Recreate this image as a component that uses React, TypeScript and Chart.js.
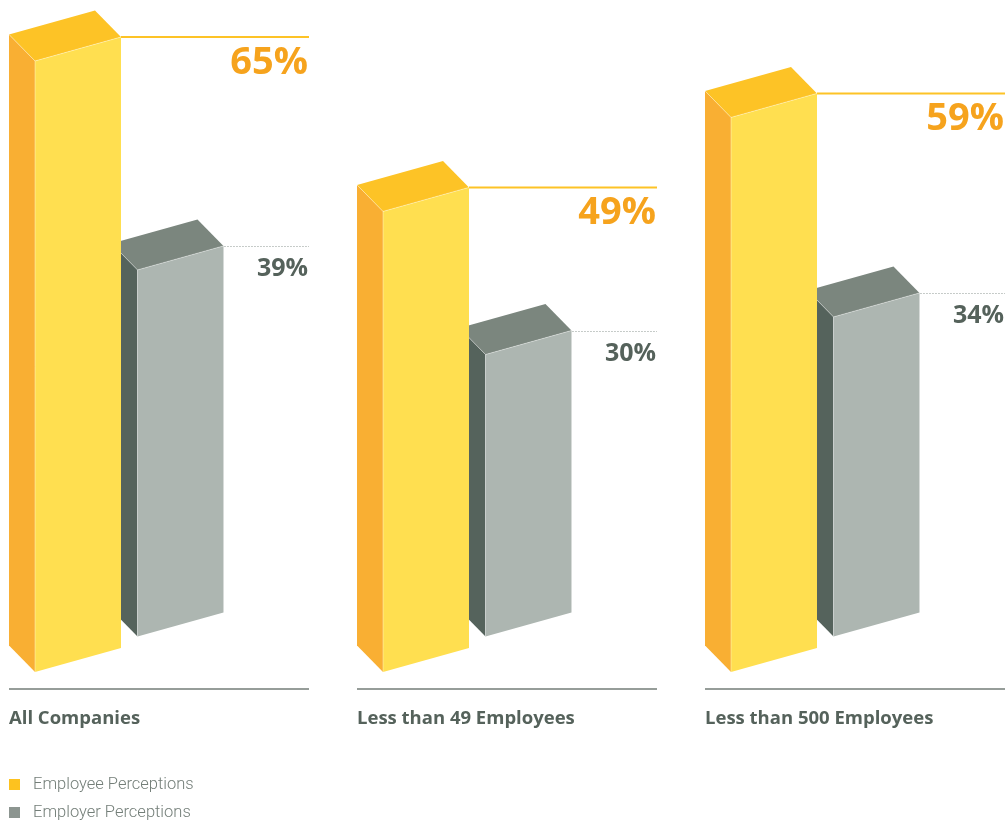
import React, { useEffect, useRef } from "react";
import { Chart, registerables } from "chart.js";
Chart.register(...registerables);

// ---- data ----
const categories = ["All Companies", "Less than 49 Employees", "Less than 500 Employees"];
const seriesNames = ["Employee Perceptions", "Employer Perceptions"];
const employeeValues = [65, 49, 59];
const employerValues = [39, 30, 34];

// ---- styles ----
const YELLOW = { front: "#FFDF50", side: "#F9AF33", top: "#FDC326", legend: "#FDC21F", label: "#F6A31D", line: "#FDC326" };
const GRAY = { front: "#ADB6B1", side: "#55635C", top: "#7B867E", legend: "#8C9590", label: "#55625B", line: "#8E9893" };
const SLOPE = 24 / 86;
const DEPTH_X = -26;
const DEPTH_Y = -26.5;
const GRAY_SHIFT = 35.5;
const GROUP_HALF_LEFT = 120.25;
const GROUP_WIDTH = 300;
const FONT_BOLD = "'Open Sans', 'Noto Sans', sans-serif";
const FONT_LIGHT = "Roboto, 'Open Sans', sans-serif";

type Pt = [number, number];

function poly(ctx: CanvasRenderingContext2D, pts: Pt[], fill: string) {
  ctx.beginPath();
  ctx.moveTo(pts[0][0], pts[0][1]);
  for (let i = 1; i < pts.length; i++) ctx.lineTo(pts[i][0], pts[i][1]);
  ctx.closePath();
  ctx.fillStyle = fill;
  ctx.fill();
}

function drawBox(ctx: CanvasRenderingContext2D, cx: number, top: number, base: number, w: number, c: any): Pt {
  const h = (SLOPE * w) / 2;
  const fl: Pt = [cx - w / 2, top + h];
  const fr: Pt = [cx + w / 2, top - h];
  const bl: Pt = [cx - w / 2, base + h];
  const br: Pt = [cx + w / 2, base - h];
  const d = (p: Pt): Pt => [p[0] + DEPTH_X, p[1] + DEPTH_Y];
  poly(ctx, [fl, d(fl), d(bl), bl], c.side);
  poly(ctx, [fl, d(fl), d(fr), fr], c.top);
  poly(ctx, [fl, fr, br, bl], c.front);
  // soft highlight edges
  ctx.save();
  ctx.strokeStyle = "rgba(255,255,255,0.45)";
  ctx.lineWidth = 0.8;
  ctx.beginPath();
  ctx.moveTo(d(fl)[0], d(fl)[1]);
  ctx.lineTo(fl[0], fl[1]);
  ctx.lineTo(fr[0], fr[1]);
  ctx.moveTo(fl[0], fl[1]);
  ctx.lineTo(bl[0], bl[1]);
  ctx.stroke();
  ctx.restore();
  return fr;
}

const threeDPlugin = {
  id: "threeD",
  afterDatasetsDraw(chart: any) {
    const ctx: CanvasRenderingContext2D = chart.ctx;
    const xs = chart.scales.x;
    const ys = chart.scales.y;
    const m0 = chart.getDatasetMeta(0);
    const m1 = chart.getDatasetMeta(1);
    const zeroY = ys.getPixelForValue(0);
    ctx.save();
    for (let i = 0; i < categories.length; i++) {
      const gc = xs.getPixelForValue(i);
      const gl = gc - GROUP_HALF_LEFT;
      const gr = gl + GROUP_WIDTH;
      const e1 = m1.data[i].getProps(["x", "y", "base", "width"], true);
      const e0 = m0.data[i].getProps(["x", "y", "base", "width"], true);

      // gray (behind)
      const frG = drawBox(ctx, e1.x, e1.y - GRAY_SHIFT, e1.base - GRAY_SHIFT, e1.width, GRAY);
      // yellow (front)
      const frY = drawBox(ctx, e0.x, e0.y, e0.base, e0.width, YELLOW);

      // reference lines
      ctx.save();
      ctx.strokeStyle = YELLOW.line;
      ctx.lineWidth = 2;
      ctx.beginPath();
      ctx.moveTo(frY[0], frY[1]);
      ctx.lineTo(gr, frY[1]);
      ctx.stroke();
      ctx.strokeStyle = GRAY.line;
      ctx.lineWidth = 1;
      ctx.setLineDash([1, 2]);
      ctx.beginPath();
      ctx.moveTo(frG[0] + 1, Math.round(frG[1]) + 0.5);
      ctx.lineTo(gr, Math.round(frG[1]) + 0.5);
      ctx.stroke();
      ctx.restore();

      // value labels
      ctx.textAlign = "right";
      ctx.textBaseline = "alphabetic";
      ctx.fillStyle = YELLOW.label;
      ctx.font = `bold 38px ${FONT_BOLD}`;
      ctx.fillText(`${employeeValues[i]}%`, gr - 1, frY[1] + 37);
      ctx.fillStyle = GRAY.label;
      ctx.font = `bold 25px ${FONT_BOLD}`;
      ctx.fillText(`${employerValues[i]}%`, gr - 1, frG[1] + 30);

      // baseline + category label
      ctx.strokeStyle = "#737D77";
      ctx.lineWidth = 1.5;
      ctx.beginPath();
      ctx.moveTo(gl, zeroY + 29);
      ctx.lineTo(gr, zeroY + 29);
      ctx.stroke();
      ctx.textAlign = "left";
      ctx.fillStyle = GRAY.label;
      ctx.font = `bold 18.5px ${FONT_BOLD}`;
      ctx.fillText(categories[i], gl, zeroY + 64);
    }

    // legend
    const legendColors = [YELLOW.legend, GRAY.legend];
    const gl0 = xs.getPixelForValue(0) - GROUP_HALF_LEFT;
    ctx.font = `300 16.5px ${FONT_LIGHT}`;
    ctx.textAlign = "left";
    ctx.textBaseline = "middle";
    for (let k = 0; k < seriesNames.length; k++) {
      const yTop = zeroY + 119 + k * 28;
      ctx.fillStyle = legendColors[k];
      ctx.fillRect(gl0, yTop, 11, 11);
      ctx.fillStyle = "#737E78";
      ctx.fillText(seriesNames[k], gl0 + 24, yTop + 6);
    }
    ctx.restore();
  },
};

export default function App() {
  const ref = useRef<HTMLCanvasElement | null>(null);
  useEffect(() => {
    if (!ref.current) return;
    const chart = new Chart(ref.current, {
      type: "bar",
      data: {
        labels: categories,
        datasets: [
          { label: seriesNames[0], data: employeeValues, backgroundColor: "rgba(0,0,0,0)", borderWidth: 0 },
          { label: seriesNames[1], data: employerValues, backgroundColor: "rgba(0,0,0,0)", borderWidth: 0 },
        ],
      },
      options: {
        responsive: false,
        animation: false,
        events: [],
        layout: { padding: { left: 129.25, right: 180.75, top: 2, bottom: 161 } },
        datasets: { bar: { categoryPercentage: 0.589, barPercentage: 0.839 } },
        plugins: { legend: { display: false }, tooltip: { enabled: false }, title: { display: false } },
        scales: {
          x: { type: "category", offset: false, display: false, grid: { display: false } },
          y: { min: 0, max: 70, display: false, grid: { display: false } },
        },
      },
      plugins: [threeDPlugin],
    });
    return () => chart.destroy();
  }, []);
  return (
    <div style={{ position: "absolute", left: 0, top: 0, width: 1006, height: 821, background: "#fff" }}>
      <canvas ref={ref} width={1006} height={821} style={{ display: "block" }} />
    </div>
  );
}
